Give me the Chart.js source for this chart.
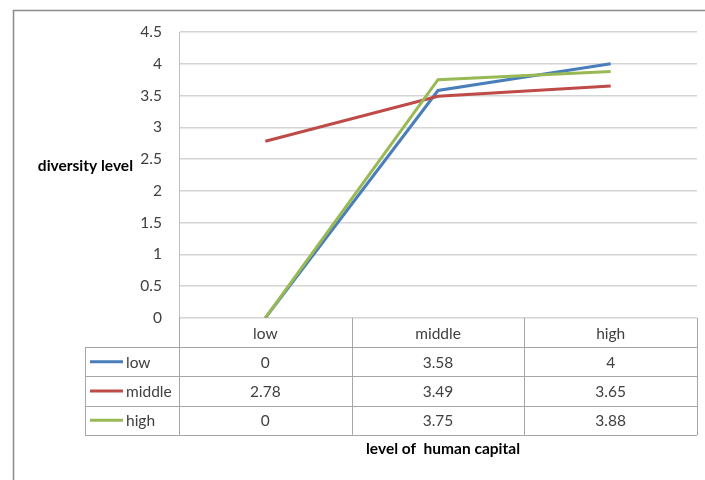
<!DOCTYPE html>
<html>
<head>
<meta charset="utf-8">
<script src="https://cdn.jsdelivr.net/npm/chart.js@4/dist/chart.umd.min.js"></script>
<style>
  html, body { margin: 0; padding: 0; background: #ffffff; }
  #wrap { position: relative; width: 705px; height: 480px; }
</style>
</head>
<body>
<div id="wrap"><canvas id="c" width="705" height="480"></canvas></div>
<script>
const categories = ['low', 'middle', 'high'];
const seriesNames = ['low', 'middle', 'high'];
const lowValues = [0, 3.58, 4];
const middleValues = [2.78, 3.49, 3.65];
const highValues = [0, 3.75, 3.88];
const seriesColors = ['#4a7ebb', '#be4b48', '#98b954'];
const yAxisTitle = 'diversity level';
const xAxisTitle = 'level of  human capital';

const FONT = 'Lato, "Open Sans", sans-serif';
const seriesValues = [lowValues, middleValues, highValues];

const decorPlugin = {
  id: 'decor',
  beforeDraw(chart) {
    const ctx = chart.ctx;
    ctx.save();
    ctx.strokeStyle = '#8c8c8c';
    ctx.lineWidth = 1.5;
    ctx.beginPath();
    ctx.moveTo(13.5, 480);
    ctx.lineTo(13.5, 10.5);
    ctx.lineTo(705, 10.5);
    ctx.stroke();
    ctx.restore();
  },
  afterDraw(chart) {
    const ctx = chart.ctx;
    const xs = chart.scales.x;
    const area = chart.chartArea;
    const n = categories.length;
    const colW = (area.right - area.left) / n;
    const top = area.bottom;
    const headerH = 29;
    const rowH = 29.3;
    const tableLeft = 85;
    const nRows = seriesNames.length;
    const tableBottom = top + headerH + rowH * nRows;

    ctx.save();
    ctx.strokeStyle = '#a6a6a6';
    ctx.lineWidth = 1;
    for (let i = 0; i <= n; i++) {
      const x = Math.round(area.left + colW * i) + 0.5;
      ctx.beginPath();
      ctx.moveTo(x, top);
      ctx.lineTo(x, tableBottom);
      ctx.stroke();
    }
    ctx.beginPath();
    ctx.moveTo(tableLeft + 0.5, top + headerH);
    ctx.lineTo(tableLeft + 0.5, tableBottom);
    ctx.stroke();
    for (let r = 0; r <= nRows; r++) {
      const y = Math.round(top + headerH + rowH * r) + 0.5;
      ctx.beginPath();
      ctx.moveTo(tableLeft, y);
      ctx.lineTo(area.right, y);
      ctx.stroke();
    }

    ctx.font = '15.5px ' + FONT;
    ctx.fillStyle = '#404040';
    ctx.textAlign = 'center';
    ctx.textBaseline = 'middle';
    categories.forEach((c, i) => {
      ctx.fillText(c, xs.getPixelForValue(i), top + headerH / 2 + 1);
    });
    seriesNames.forEach((name, r) => {
      const yc = top + headerH + rowH * r + rowH / 2 + 1;
      ctx.strokeStyle = seriesColors[r];
      ctx.lineWidth = 3;
      ctx.beginPath();
      ctx.moveTo(90, yc - 1);
      ctx.lineTo(123, yc - 1);
      ctx.stroke();
      ctx.textAlign = 'left';
      ctx.fillText(name, 126, yc);
      ctx.textAlign = 'center';
      seriesValues[r].forEach((v, i) => {
        ctx.fillText(String(v), xs.getPixelForValue(i), yc);
      });
    });

    ctx.fillStyle = '#000000';
    ctx.font = 'bold 15.5px ' + FONT;
    ctx.textAlign = 'right';
    ctx.textBaseline = 'middle';
    ctx.fillText(yAxisTitle, 133, 166);
    ctx.textAlign = 'center';
    ctx.fillText(xAxisTitle, 443, 449);
    ctx.restore();
  }
};

new Chart(document.getElementById('c'), {
  type: 'line',
  data: {
    labels: categories,
    datasets: seriesNames.map((name, i) => ({
      label: name,
      data: seriesValues[i],
      borderColor: seriesColors[i],
      backgroundColor: seriesColors[i],
      borderWidth: 3,
      pointRadius: 0,
      pointHoverRadius: 0,
      tension: 0,
      fill: false,
      order: 3 - i
    }))
  },
  options: {
    responsive: false,
    animation: false,
    devicePixelRatio: 1,
    layout: { padding: { left: 0, top: 32, right: 8, bottom: 162 } },
    plugins: {
      legend: { display: false },
      tooltip: { enabled: false },
      title: { display: false }
    },
    scales: {
      x: {
        type: 'category',
        offset: true,
        display: false
      },
      y: {
        min: 0,
        max: 4.5,
        ticks: {
          stepSize: 0.5,
          padding: 17,
          color: '#404040',
          font: { family: FONT, size: 15.5 },
          callback: (v) => String(v)
        },
        grid: {
          color: '#d4d4d4',
          lineWidth: 1.5,
          drawTicks: false
        },
        border: { display: true, color: '#bfbfbf', width: 1 },
        afterFit(scale) { scale.width = 179; }
      }
    }
  },
  plugins: [decorPlugin]
});
</script>
</body>
</html>
